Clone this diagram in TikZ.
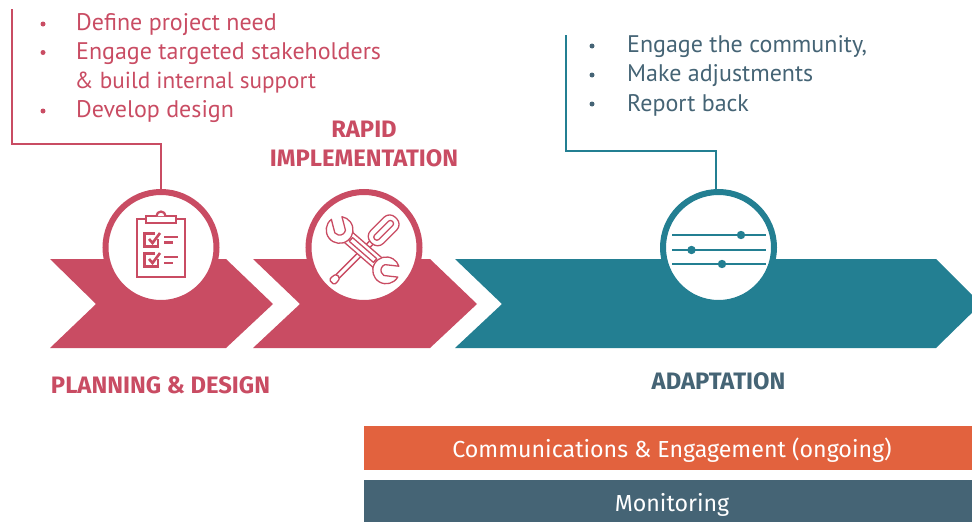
\documentclass[tikz,border=0pt]{standalone}
\usepackage{fontspec}
\setmainfont{PT Sans}
\newfontfamily\headfont{Fira Sans}
\usetikzlibrary{calc}
\definecolor{crim}{HTML}{C94C63}
\definecolor{teal}{HTML}{237F92}
\definecolor{oran}{HTML}{E2623E}
\definecolor{slat}{HTML}{456475}
\tikzset{
  x=1pt,y=-1pt,
  leader/.style={line width=1.9pt},
  ring/.style={circle,draw=#1,line width=6pt,fill=white,minimum size=111pt,inner sep=0pt,outer sep=0pt},
  bodytext/.style={anchor=base west,inner sep=0pt,font=\fontsize{24}{24}\selectfont,text=#1},
  bulletmark/.style={circle,fill=#1,inner sep=0pt,minimum size=5pt},
  heading/.style={anchor=base,inner sep=0pt,font=\headfont\bfseries\fontsize{23.8}{24}\selectfont,text=#1},
  barlabel/.style={anchor=base,inner sep=0pt,font=\headfont\fontsize{23.2}{24}\selectfont,text=white},
  iconline/.style={draw=crim,line width=1.3pt,line join=round,fill=white},
}
\begin{document}
\begin{tikzpicture}
\useasboundingbox (0,0) rectangle (972,522);
\begin{scope}
\clip (0,0) rectangle (972,522);
\fill[crim] (50,259) -- (226,259) -- (273,304) -- (226,348) -- (50,348) -- (96,304) -- cycle;
\fill[crim] (253,259) -- (430,259) -- (477,304) -- (430,348) -- (253,348) -- (300,304) -- cycle;
\fill[teal] (455,259) -- (936,259) -- (981,304) -- (936,348) -- (455,348) -- (502,304) -- cycle;
\end{scope}
% connectors
\coordinate (s1) at (12,9);
\coordinate (b1) at (12,144);
\coordinate (e1) at (161,144);
\coordinate (s3) at (566,35);
\coordinate (b3) at (566,151);
\coordinate (e3) at (716,151);
\node[ring=crim] (c1) at (161,247.5) {};
\node[ring=crim] (c2) at (364,247.5) {};
\node[ring=teal] (c3) at (718.5,247.5) {};
\draw[leader,crim] (s1) -- (b1) -- (e1) -- (c1.north);
\draw[leader,teal] (s3) -- (b3) -- (e3) -- (e3 |- c3.north);
% clipboard
\begin{scope}[crim,line width=2.2pt,line join=miter]
\draw (137,219) rectangle (185,277);
\draw[fill=white] (146,216) rectangle (176,223);
\draw[fill=white] (156.5,216) arc[start angle=180,end angle=0,x radius=4.5,y radius=-4.5];
\draw[line width=2.6pt] (158,239) -- (158,246.5) -- (144.5,246.5) -- (144.5,233.5) -- (155,233.5);
\draw[line width=2.6pt] (149,239) -- (152.5,243) -- (160,233);
\draw[line width=2.4pt] (164,237) -- (178,237) (164,242.5) -- (173,242.5);
\draw[line width=2.6pt] (158,259) -- (158,266.5) -- (144.5,266.5) -- (144.5,253.5) -- (155,253.5);
\draw[line width=2.6pt] (149,259) -- (152.5,263) -- (160,253);
\draw[line width=2.4pt] (164,257) -- (178,257) (164,263) -- (173,263);
\end{scope}
% tools
\begin{scope}[shift={(363.5,250.5)},yscale=-1,rotate=-45]
 % screwdriver
 \draw[iconline] (-40,-2.4) rectangle (12,2.4);
 \draw[iconline,rounded corners=1.5pt] (-36,-2.4) -- (-40,-3.8) -- (-45,-3.4) -- (-45,3.4) -- (-40,3.8) -- (-36,2.4) -- cycle;
 \draw[iconline,rounded corners=8pt] (11,-9) rectangle (46,9);
 \draw[iconline,rounded corners=2.5pt] (16,-3) rectangle (41,3);
\end{scope}
\begin{scope}[shift={(363,250)},yscale=-1,rotate=41]
 \draw[iconline] (-22,-6.5) rectangle (22,6.5);
 \draw[iconline] (-16,-2.5) rectangle (16,2.5);
 \foreach \s/\r in {1/-35,-1/-35}{
 \begin{scope}[xscale=\s,shift={(31,0)},rotate=\r]
  \draw[iconline] (5,5.5) -- (-2,5.5) arc[start angle=115,end angle=245,radius=6] -- (5,-5.5) -- (12,-5.5)
     arc[start angle=-24,end angle=-336,radius=13.4] -- cycle;
 \end{scope}}
\end{scope}
% sliders
\begin{scope}[teal,line width=2pt]
\draw (672,235) -- (766,235);
\draw (672,250) -- (766,250);
\draw (672,264) -- (766,264);
\fill (741,235) circle (4.2);
\fill (691.5,250) circle (4.2);
\fill (722,264) circle (4.2);
\end{scope}
% texts
\node[bodytext=crim] (t1) at (76,30) {Define project need};
\node[bodytext=crim] (t2) at (76,59) {Engage targeted stakeholders};
\node[bodytext=crim,font=\fontsize{23.2}{24}\selectfont] (t3) at (74.5,88) {\& build internal support};
\node[bodytext=crim] (t4) at (76,117) {Develop design};
\node[bulletmark=crim] (d1) at (43,24) {};
\node[bulletmark=crim] (d2) at (43,52.5) {};
\node[bulletmark=crim] (d4) at (43,111) {};
\node[bodytext=slat] (u1) at (627,52) {Engage the community,};
\node[bodytext=slat] (u2) at (627,81) {Make adjustments};
\node[bodytext=slat] (u3) at (627,111) {Report back};
\node[bulletmark=slat] (f1) at (592,46) {};
\node[bulletmark=slat] (f2) at (592,75) {};
\node[bulletmark=slat] (f3) at (592,104) {};
\node[heading=crim] (h1) at (364,137) {RAPID};
\node[heading=crim] (h2) at (364,166) {IMPLEMENTATION};
\node[heading=crim] (h3) at (160.5,393) {PLANNING \& DESIGN};
\node[heading=slat] (h4) at (718.5,389) {ADAPTATION};
% bars
\fill[oran] (364,426) rectangle (972,470);
\fill[slat] (364,480) rectangle (972,522);
\node[barlabel] (l1) at (672,457) {Communications \& Engagement (ongoing)};
\node[barlabel] (l2) at (672,511) {Monitoring};
\end{tikzpicture}
\end{document}
